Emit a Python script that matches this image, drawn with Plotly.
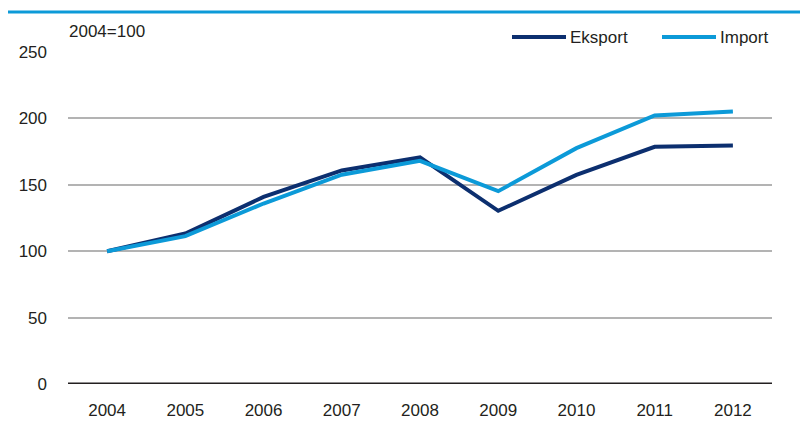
import plotly.graph_objects as go

years = ["2004", "2005", "2006", "2007", "2008", "2009", "2010", "2011", "2012"]
eksport = [100, 113.3, 140.9, 160.8, 170.6, 130.4, 157.5, 178.6, 179.6]
importv = [100, 111.3, 135.9, 157.6, 168.0, 145.2, 177.6, 202.2, 205.2]
y_ticks = [0, 50, 100, 150, 200, 250]
series_names = ["Eksport", "Import"]
series_colors = ["#0c2f6f", "#0c9ad8"]

FONT = "Liberation Sans Narrow, Arial Narrow, Liberation Sans, Arial, sans-serif"
TXT = "#231f20"
FS = 17

fig = go.Figure()
for name, vals, col in zip(series_names, [eksport, importv], series_colors):
    fig.add_trace(go.Scatter(x=years, y=vals, mode="lines", name=name,
                             line=dict(color=col, width=4)))

L, R, T, B = 68, 28, 52, 46
W, H = 800, 430
pw, ph = W - L - R, H - T - B

def px(xp):
    return (xp - L) / pw

def py(yp):
    return (H - B - yp) / ph

fig.update_layout(
    width=W, height=H,
    margin=dict(l=L, r=R, t=T, b=B, autoexpand=False),
    paper_bgcolor="white", plot_bgcolor="white",
    font=dict(family=FONT, size=FS, color=TXT),
    showlegend=False,
    xaxis=dict(type="category", range=[-0.5, 8.5], showgrid=False, showline=False,
               zeroline=False, ticks="", tickfont=dict(size=FS), ticklabelstandoff=14),
    yaxis=dict(range=[0, 250], tickvals=y_ticks, showgrid=True, gridcolor="#b3b3b3",
               gridwidth=1.5, zeroline=False, showline=False, ticks="",
               ticklabelstandoff=20, tickfont=dict(size=FS)),
)

# baseline at 0
fig.add_shape(type="line", xref="paper", yref="y", x0=0, x1=1, y0=0, y1=0,
              line=dict(color=TXT, width=3))
# top blue rule
fig.add_shape(type="line", xref="paper", yref="paper",
              x0=px(8), x1=px(W), y0=py(12), y1=py(12),
              line=dict(color="#0c9ad8", width=3))
fig.add_annotation(text="2004=100", xref="paper", yref="paper", x=px(67), y=py(31),
                   xanchor="left", yanchor="middle", showarrow=False,
                   font=dict(family=FONT, size=FS, color=TXT))

# legend (drawn manually to match line-sample length)
legend_x = [512, 662]
for name, col, lx in zip(series_names, series_colors, legend_x):
    fig.add_shape(type="line", xref="paper", yref="paper",
                  x0=px(lx), x1=px(lx + 54), y0=py(37), y1=py(37),
                  line=dict(color=col, width=4))
    fig.add_annotation(text=name, xref="paper", yref="paper", x=px(lx + 56), y=py(37),
                       xanchor="left", yanchor="middle", showarrow=False,
                       font=dict(family=FONT, size=FS, color=TXT))

fig.write_html("out.html", config={"displayModeBar": False},
               post_script="document.body.style.margin='0';")
